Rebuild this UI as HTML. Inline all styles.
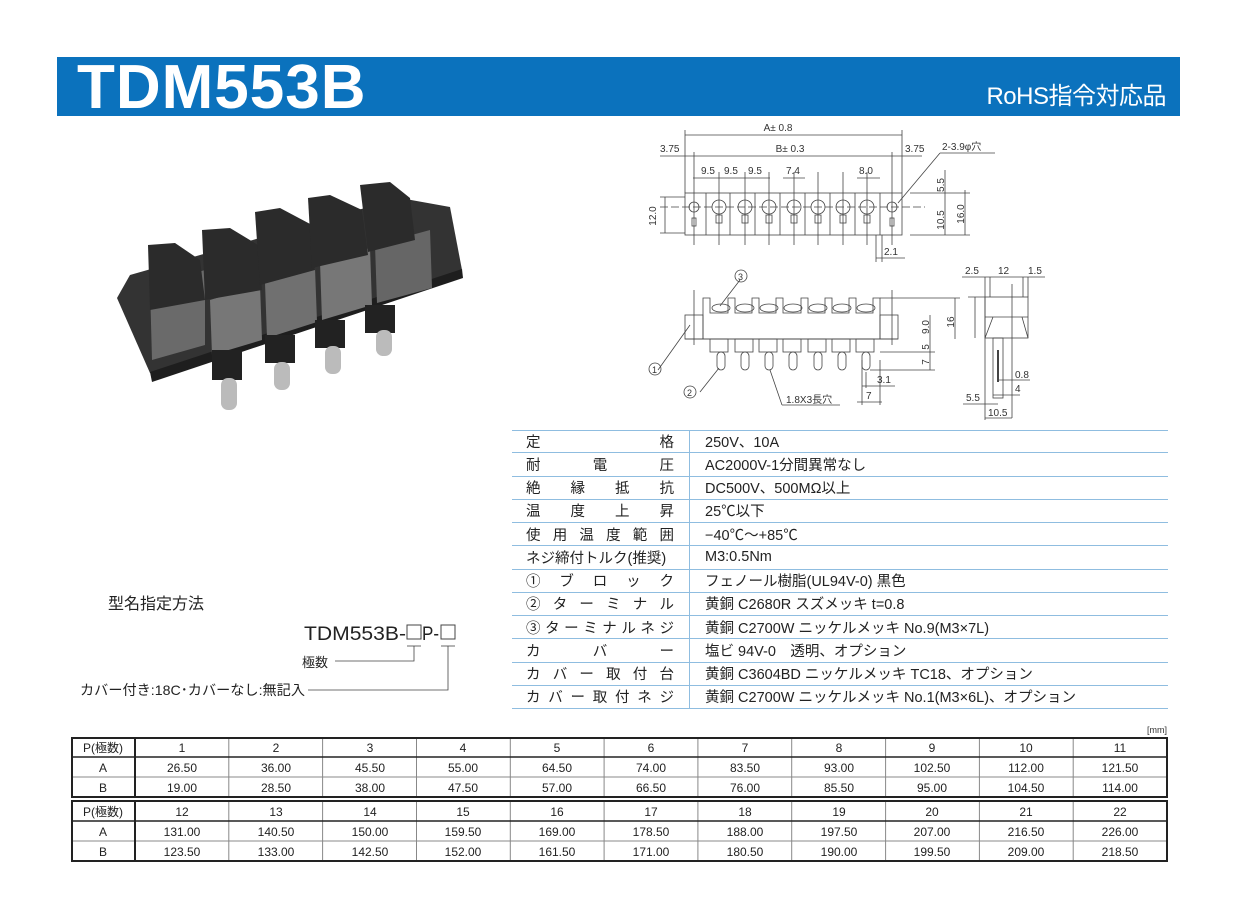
<!DOCTYPE html>
<html><head><meta charset="utf-8"><style>
body{margin:0;background:#fff;}
#w{position:relative;width:1237px;height:911px;overflow:hidden;font-family:"Liberation Sans","Noto Sans CJK JP",sans-serif;}
.band{position:absolute;left:57px;top:57px;width:1123px;height:59px;background:#0b72bd;}
.t{position:absolute;left:20px;top:-5px;color:#fff;font-weight:bold;font-size:62px;letter-spacing:1px;}
.r{position:absolute;right:14px;top:19px;color:#fff;font-size:24px;letter-spacing:-0.5px;}
.spec{position:absolute;left:512px;top:430px;width:656px;}
.row{height:23.25px;border-bottom:1.5px solid #8fbde0;box-sizing:border-box;display:flex;font-size:14.5px;color:#222;}
.row:first-child{border-top:1.5px solid #8fbde0;}
.lab{width:178px;border-right:1.5px solid #8fbde0;display:flex;justify-content:space-between;padding:0 15px 0 14px;box-sizing:border-box;align-items:center;}
.val{padding-left:15px;display:flex;align-items:center;}
svg text{font-family:"Liberation Sans","Noto Sans CJK JP",sans-serif;}
</style></head><body><div id="w">
<div class="band"><div class="t">TDM553B</div><div class="r">RoHS指令対応品</div></div>

<svg width="1237" height="911" style="position:absolute;left:0;top:0">
<!-- photo -->
<g>
<polygon points="117,298 150,373 462,270 450,207 400,198 130,275" fill="#333"/>
<polygon points="150,372 462,269 463,278 152,382" fill="#1e1e1e"/>
<polygon points="150,286 205,270 205,345 152,360" fill="#6a6a6a"/>
<polygon points="210,300 260,285 262,340 212,355" fill="#777"/>
<polygon points="265,283 315,268 317,322 267,338" fill="#707070"/>
<polygon points="320,262 370,248 372,305 322,320" fill="#777"/>
<polygon points="375,245 430,230 432,288 377,303" fill="#666"/>
<polygon points="148,245 175,243 200,260 205,300 150,310" fill="#2b2b2b"/>
<polygon points="202,230 230,228 258,245 262,290 205,300" fill="#2b2b2b"/>
<polygon points="255,212 280,208 312,225 315,270 260,285" fill="#2b2b2b"/>
<polygon points="308,198 330,195 362,210 368,255 312,268" fill="#2b2b2b"/>
<polygon points="360,185 390,182 410,198 415,240 368,252" fill="#2b2b2b"/>
<rect x="212" y="350" width="30" height="30" fill="#222"/>
<rect x="265" y="335" width="30" height="28" fill="#222"/>
<rect x="315" y="320" width="30" height="28" fill="#222"/>
<rect x="365" y="305" width="30" height="28" fill="#222"/>
<rect x="221" y="378" width="16" height="32" rx="7" fill="#bbb"/>
<rect x="274" y="362" width="16" height="28" rx="7" fill="#bbb"/>
<rect x="325" y="346" width="16" height="28" rx="7" fill="#bbb"/>
<rect x="376" y="330" width="16" height="26" rx="7" fill="#bbb"/>
</g>

<!-- top view drawing -->
<g stroke="#444" stroke-width="0.8" fill="none">
<line x1="685" y1="135" x2="902" y2="135"/>
<line x1="660" y1="156" x2="922" y2="156"/>
<line x1="693" y1="178" x2="770" y2="178"/>
<line x1="783" y1="178" x2="805" y2="178"/>
<line x1="857" y1="178" x2="880" y2="178"/>
<line x1="685" y1="130" x2="685" y2="193"/><line x1="902" y1="130" x2="902" y2="193"/>
<line x1="694" y1="152" x2="694" y2="245"/><line x1="892" y1="152" x2="892" y2="245"/>
<rect x="685" y="193" width="217" height="42"/>
<line x1="660" y1="207" x2="925" y2="207" stroke-dasharray="8,3"/>
<line x1="665" y1="197" x2="665" y2="233"/>
<line x1="660" y1="197" x2="685" y2="197"/><line x1="660" y1="233" x2="685" y2="233"/>
<circle cx="694" cy="207" r="5"/><rect x="692" y="218" width="4" height="8"/>
<circle cx="892" cy="207" r="5"/><rect x="890" y="218" width="4" height="8"/>
<line x1="706" y1="193" x2="706" y2="235"/><line x1="730" y1="193" x2="730" y2="235"/><line x1="755" y1="193" x2="755" y2="235"/><line x1="780" y1="193" x2="780" y2="235"/><line x1="805" y1="193" x2="805" y2="235"/><line x1="830" y1="193" x2="830" y2="235"/><line x1="855" y1="193" x2="855" y2="235"/><line x1="880" y1="193" x2="880" y2="235"/>
<g>
<circle cx="719" cy="207" r="7"/><circle cx="745" cy="207" r="7"/><circle cx="769" cy="207" r="7"/><circle cx="794" cy="207" r="7"/><circle cx="818" cy="207" r="7"/><circle cx="843" cy="207" r="7"/><circle cx="867" cy="207" r="7"/>
<rect x="716" y="215" width="6" height="8"/><rect x="742" y="215" width="6" height="8"/><rect x="766" y="215" width="6" height="8"/><rect x="791" y="215" width="6" height="8"/><rect x="815" y="215" width="6" height="8"/><rect x="840" y="215" width="6" height="8"/><rect x="864" y="215" width="6" height="8"/>
<line x1="719" y1="172" x2="719" y2="245"/><line x1="745" y1="172" x2="745" y2="245"/><line x1="769" y1="172" x2="769" y2="245"/><line x1="794" y1="172" x2="794" y2="245"/><line x1="818" y1="172" x2="818" y2="245"/><line x1="843" y1="172" x2="843" y2="245"/><line x1="867" y1="172" x2="867" y2="245"/>
</g>
<line x1="898" y1="203" x2="940" y2="153"/><line x1="940" y1="153" x2="995" y2="153"/>
<line x1="910" y1="193" x2="970" y2="193"/><line x1="910" y1="235" x2="970" y2="235"/>
<line x1="945" y1="170" x2="945" y2="235"/><line x1="965" y1="190" x2="965" y2="235"/>
<line x1="876" y1="235" x2="876" y2="262"/><line x1="882" y1="235" x2="882" y2="262"/><line x1="876" y1="258" x2="905" y2="258"/>

<!-- front view -->
<rect x="685" y="315" width="18" height="24"/>
<rect x="880" y="315" width="18" height="24"/>
<polygon points="703,339 703,298 710,298 710,313 728,313 728,298 735,298 735,313 752,313 752,298 759,298 759,313 776,313 776,298 783,298 783,313 801,313 801,298 808,298 808,313 825,313 825,298 832,298 832,313 849,313 849,298 856,298 856,313 873,313 873,298 880,298 880,339"/>
<line x1="685" y1="339" x2="898" y2="339"/>
<g>
<ellipse cx="721" cy="308" rx="9" ry="4"/><ellipse cx="745" cy="308" rx="9" ry="4"/><ellipse cx="769" cy="308" rx="9" ry="4"/><ellipse cx="793" cy="308" rx="9" ry="4"/><ellipse cx="818" cy="308" rx="9" ry="4"/><ellipse cx="842" cy="308" rx="9" ry="4"/><ellipse cx="866" cy="308" rx="9" ry="4"/>
<rect x="710" y="339" width="18" height="13"/><rect x="735" y="339" width="18" height="13"/><rect x="759" y="339" width="18" height="13"/><rect x="783" y="339" width="18" height="13"/><rect x="808" y="339" width="18" height="13"/><rect x="832" y="339" width="18" height="13"/><rect x="856" y="339" width="18" height="13"/>
<rect x="717" y="352" width="8" height="18" rx="4"/><rect x="741" y="352" width="8" height="18" rx="4"/><rect x="765" y="352" width="8" height="18" rx="4"/><rect x="789" y="352" width="8" height="18" rx="4"/><rect x="814" y="352" width="8" height="18" rx="4"/><rect x="838" y="352" width="8" height="18" rx="4"/><rect x="862" y="352" width="8" height="18" rx="4"/>
</g>
<line x1="694" y1="290" x2="694" y2="345"/><line x1="892" y1="290" x2="892" y2="345"/>
<line x1="880" y1="298" x2="960" y2="298"/><line x1="880" y1="352" x2="935" y2="352"/><line x1="870" y1="370" x2="935" y2="370"/>
<line x1="955" y1="298" x2="955" y2="339"/><line x1="930" y1="315" x2="930" y2="370"/>
<line x1="862" y1="360" x2="862" y2="405"/><line x1="880" y1="360" x2="880" y2="405"/><line x1="857" y1="402" x2="882" y2="402"/>
<line x1="866" y1="372" x2="866" y2="388"/><line x1="862" y1="386" x2="895" y2="386"/>
<line x1="690" y1="325" x2="658" y2="370"/>
<line x1="719" y1="368" x2="700" y2="392"/>
<line x1="720" y1="306" x2="740" y2="280"/>
<line x1="770" y1="370" x2="782" y2="405"/><line x1="782" y1="405" x2="840" y2="405"/>
<circle cx="655" cy="369" r="6"/><circle cx="690" cy="392" r="6"/><circle cx="741" cy="276" r="6"/>

<!-- side view -->
<rect x="985" y="297" width="43" height="41"/>
<line x1="985" y1="317" x2="1028" y2="317"/>
<polyline points="993,317 985,338"/><polyline points="1022,317 1028,338"/>
<line x1="985" y1="277" x2="985" y2="420"/><line x1="1028" y1="277" x2="1028" y2="297"/>
<line x1="990" y1="277" x2="990" y2="297"/><line x1="1023" y1="277" x2="1023" y2="297"/>
<line x1="962" y1="277" x2="1045" y2="277"/>
<line x1="1012" y1="284" x2="1012" y2="418"/>
<rect x="993" y="338" width="10" height="60"/>
<line x1="998" y1="350" x2="998" y2="382" stroke-width="2"/>
<line x1="975" y1="297" x2="975" y2="338"/><line x1="968" y1="297" x2="985" y2="297"/>
<line x1="998" y1="380" x2="1030" y2="380"/><line x1="993" y1="395" x2="1020" y2="395"/>
<line x1="963" y1="404" x2="998" y2="404"/><line x1="985" y1="418" x2="1012" y2="418"/>
</g>
<g font-size="10" fill="#333">
<text x="778" y="131" text-anchor="middle">A± 0.8</text>
<text x="790" y="152" text-anchor="middle">B± 0.3</text>
<text x="660" y="152">3.75</text><text x="905" y="152">3.75</text>
<text x="942" y="150">2-3.9φ穴</text>
<text x="701" y="174">9.5</text><text x="724" y="174">9.5</text><text x="748" y="174">9.5</text>
<text x="786" y="174">7.4</text><text x="859" y="174">8.0</text>
<text x="884" y="255">2.1</text>
<text x="656" y="216" transform="rotate(-90 656 216)" text-anchor="middle">12.0</text>
<text x="944" y="185" transform="rotate(-90 944 185)" text-anchor="middle">5.5</text>
<text x="944" y="220" transform="rotate(-90 944 220)" text-anchor="middle">10.5</text>
<text x="964" y="214" transform="rotate(-90 964 214)" text-anchor="middle">16.0</text>
<text x="954" y="322" transform="rotate(-90 954 322)" text-anchor="middle">16</text>
<text x="929" y="327" transform="rotate(-90 929 327)" text-anchor="middle">9.0</text>
<text x="929" y="347" transform="rotate(-90 929 347)" text-anchor="middle">5</text>
<text x="929" y="362" transform="rotate(-90 929 362)" text-anchor="middle">7</text>
<text x="877" y="383">3.1</text><text x="866" y="399">7</text>
<text x="786" y="403">1.8X3長穴</text>
<text x="965" y="274">2.5</text><text x="998" y="274">12</text><text x="1028" y="274">1.5</text>
<text x="1015" y="378">0.8</text><text x="1015" y="392">4</text>
<text x="966" y="401">5.5</text><text x="988" y="416">10.5</text>
<text x="652" y="373" font-size="9">1</text><text x="687" y="396" font-size="9">2</text><text x="738" y="280" font-size="9">3</text>
</g>

<!-- model designation -->
<text x="108" y="609" font-size="16" fill="#222">型名指定方法</text>
<text x="304" y="640" font-size="19" fill="#222" textLength="102" lengthAdjust="spacingAndGlyphs">TDM553B-</text>
<rect x="407" y="625" width="14" height="14" fill="none" stroke="#444"/>
<text x="422" y="640" font-size="19" fill="#222" textLength="17" lengthAdjust="spacingAndGlyphs">P-</text>
<rect x="441" y="625" width="14" height="14" fill="none" stroke="#444"/>
<g stroke="#444" stroke-width="0.8" fill="none">
<polyline points="407,646 421,646"/><polyline points="414,646 414,661 335,661"/>
<polyline points="441,646 455,646"/><polyline points="448,646 448,690 308,690"/>
</g>
<text x="302" y="667" font-size="13" fill="#222">極数</text>
<text x="80" y="695" font-size="14" fill="#222" textLength="225" lengthAdjust="spacingAndGlyphs">カバー付き:18C･カバーなし:無記入</text>

<!-- dimension tables -->
<text x="1167" y="733" font-size="9" fill="#333" text-anchor="end">[mm]</text>
<g stroke="#888" stroke-width="1" fill="none">
<line x1="72" y1="757" x2="1167" y2="757"/><line x1="72" y1="777" x2="1167" y2="777"/>
<line x1="72" y1="821" x2="1167" y2="821"/><line x1="72" y1="841" x2="1167" y2="841"/>
<g id="vl">
<line x1="228.8" y1="738" x2="228.8" y2="797"/><line x1="322.6" y1="738" x2="322.6" y2="797"/><line x1="416.5" y1="738" x2="416.5" y2="797"/><line x1="510.3" y1="738" x2="510.3" y2="797"/><line x1="604.1" y1="738" x2="604.1" y2="797"/><line x1="697.9" y1="738" x2="697.9" y2="797"/><line x1="791.7" y1="738" x2="791.7" y2="797"/><line x1="885.6" y1="738" x2="885.6" y2="797"/><line x1="979.4" y1="738" x2="979.4" y2="797"/><line x1="1073.2" y1="738" x2="1073.2" y2="797"/>
</g>
<use href="#vl" y="63"/>
</g>
<g stroke="#222" stroke-width="2" fill="none">
<rect x="72" y="738" width="1095" height="59"/><rect x="72" y="801" width="1095" height="60"/>
<line x1="135" y1="738" x2="135" y2="797"/><line x1="135" y1="801" x2="135" y2="861"/>
<line x1="72" y1="757" x2="1167" y2="757" stroke-width="1.5"/><line x1="72" y1="821" x2="1167" y2="821" stroke-width="1.5"/>
</g>
<g font-size="12" fill="#222" text-anchor="middle">
<text x="103" y="752">P(極数)</text><text x="103" y="772">A</text><text x="103" y="792">B</text>
<text x="103" y="816">P(極数)</text><text x="103" y="836">A</text><text x="103" y="856">B</text>
<text x="182" y="752">1</text><text x="276" y="752">2</text><text x="370" y="752">3</text><text x="463" y="752">4</text><text x="557" y="752">5</text><text x="651" y="752">6</text><text x="745" y="752">7</text><text x="839" y="752">8</text><text x="932" y="752">9</text><text x="1026" y="752">10</text><text x="1120" y="752">11</text>
<text x="182" y="772">26.50</text><text x="276" y="772">36.00</text><text x="370" y="772">45.50</text><text x="463" y="772">55.00</text><text x="557" y="772">64.50</text><text x="651" y="772">74.00</text><text x="745" y="772">83.50</text><text x="839" y="772">93.00</text><text x="932" y="772">102.50</text><text x="1026" y="772">112.00</text><text x="1120" y="772">121.50</text>
<text x="182" y="792">19.00</text><text x="276" y="792">28.50</text><text x="370" y="792">38.00</text><text x="463" y="792">47.50</text><text x="557" y="792">57.00</text><text x="651" y="792">66.50</text><text x="745" y="792">76.00</text><text x="839" y="792">85.50</text><text x="932" y="792">95.00</text><text x="1026" y="792">104.50</text><text x="1120" y="792">114.00</text>
<text x="182" y="816">12</text><text x="276" y="816">13</text><text x="370" y="816">14</text><text x="463" y="816">15</text><text x="557" y="816">16</text><text x="651" y="816">17</text><text x="745" y="816">18</text><text x="839" y="816">19</text><text x="932" y="816">20</text><text x="1026" y="816">21</text><text x="1120" y="816">22</text>
<text x="182" y="836">131.00</text><text x="276" y="836">140.50</text><text x="370" y="836">150.00</text><text x="463" y="836">159.50</text><text x="557" y="836">169.00</text><text x="651" y="836">178.50</text><text x="745" y="836">188.00</text><text x="839" y="836">197.50</text><text x="932" y="836">207.00</text><text x="1026" y="836">216.50</text><text x="1120" y="836">226.00</text>
<text x="182" y="856">123.50</text><text x="276" y="856">133.00</text><text x="370" y="856">142.50</text><text x="463" y="856">152.00</text><text x="557" y="856">161.50</text><text x="651" y="856">171.00</text><text x="745" y="856">180.50</text><text x="839" y="856">190.00</text><text x="932" y="856">199.50</text><text x="1026" y="856">209.00</text><text x="1120" y="856">218.50</text>
</g>
</svg>

<div class="spec">
<div class="row"><div class="lab"><span>定</span><span>格</span></div><div class="val">250V、10A</div></div>
<div class="row"><div class="lab"><span>耐</span><span>電</span><span>圧</span></div><div class="val">AC2000V-1分間異常なし</div></div>
<div class="row"><div class="lab"><span>絶</span><span>縁</span><span>抵</span><span>抗</span></div><div class="val">DC500V、500MΩ以上</div></div>
<div class="row"><div class="lab"><span>温</span><span>度</span><span>上</span><span>昇</span></div><div class="val">25℃以下</div></div>
<div class="row"><div class="lab"><span>使</span><span>用</span><span>温</span><span>度</span><span>範</span><span>囲</span></div><div class="val">−40℃〜+85℃</div></div>
<div class="row"><div class="lab"><span>ネジ締付トルク(推奨)</span></div><div class="val">M3:0.5Nm</div></div>
<div class="row"><div class="lab"><span>①</span><span>ブ</span><span>ロ</span><span>ッ</span><span>ク</span></div><div class="val">フェノール樹脂(UL94V-0) 黒色</div></div>
<div class="row"><div class="lab"><span>②</span><span>タ</span><span>ー</span><span>ミ</span><span>ナ</span><span>ル</span></div><div class="val">黄銅 C2680R スズメッキ t=0.8</div></div>
<div class="row"><div class="lab"><span>③</span><span>タ</span><span>ー</span><span>ミ</span><span>ナ</span><span>ル</span><span>ネ</span><span>ジ</span></div><div class="val">黄銅 C2700W ニッケルメッキ No.9(M3×7L)</div></div>
<div class="row"><div class="lab"><span>カ</span><span>バ</span><span>ー</span></div><div class="val">塩ビ 94V-0　透明、オプション</div></div>
<div class="row"><div class="lab"><span>カ</span><span>バ</span><span>ー</span><span>取</span><span>付</span><span>台</span></div><div class="val">黄銅 C3604BD ニッケルメッキ TC18、オプション</div></div>
<div class="row"><div class="lab"><span>カ</span><span>バ</span><span>ー</span><span>取</span><span>付</span><span>ネ</span><span>ジ</span></div><div class="val">黄銅 C2700W ニッケルメッキ No.1(M3×6L)、オプション</div></div>
</div>
</div></body></html>
